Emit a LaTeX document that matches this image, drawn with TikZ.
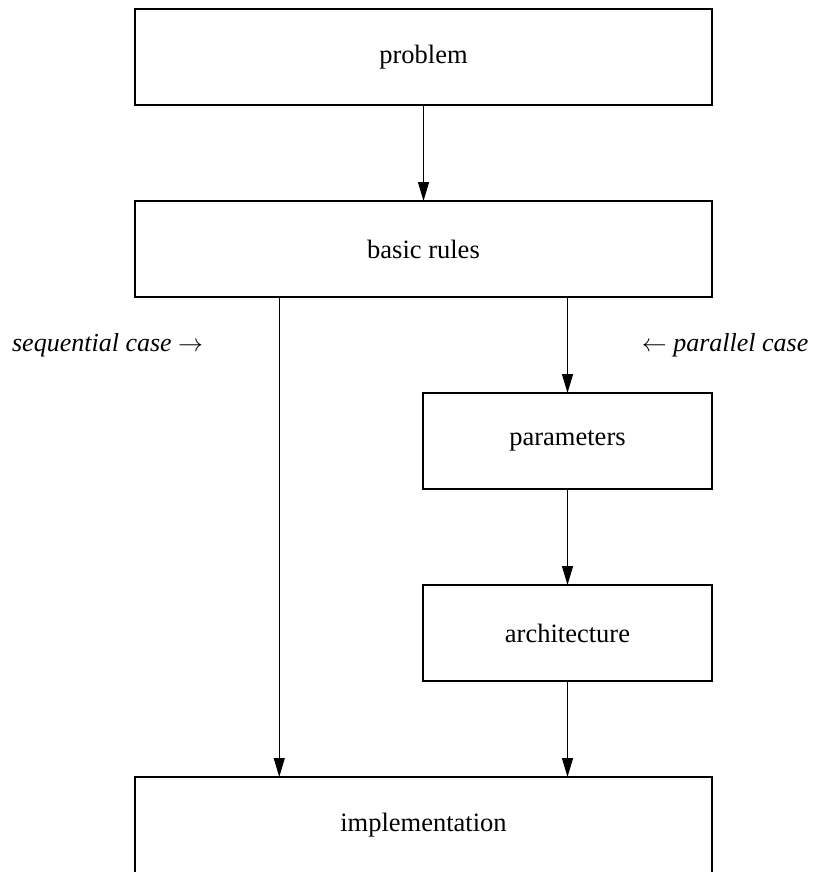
\documentclass[tikz,border=0pt]{standalone}
\usepackage{fontspec}
\setmainfont{Liberation Serif}
\usetikzlibrary{arrows.meta, positioning, calc}

\begin{document}
\begin{tikzpicture}[
      x=1pt, y=1pt,
      line width=1.2pt,
      font=\fontsize{26.5}{32}\selectfont,
      box/.style={draw, outer sep=0pt, inner sep=0pt, minimum width=577pt, minimum height=96pt},
      smallbox/.style={box, minimum width=289pt},
      lbl/.style={font=\fontsize{26}{32}\selectfont\itshape},
      >={Triangle[length=19pt, width=11pt]}
    ]
    \useasboundingbox (0,0) rectangle (814,-872);

    \node[box] (problem) at (423.5,-57) {problem};
    \node[box, below=96pt of problem] (rules) {basic rules};
    \node[smallbox, below=96pt of rules.south east, anchor=north east] (param) {parameters};
    \node[smallbox, below=96pt of param] (arch) {architecture};
    \node[box, below=96pt of arch.south east, anchor=north east] (impl) {implementation};

    \coordinate (seq) at ($(rules.south west)!.25!(rules.south east)$);

    \node[lbl, anchor=base east] (seqlbl) at (207,-351) {sequential case $\rightarrow$};
    \node[lbl, anchor=base west] (parlbl) at (638,-351) {$\leftarrow$ parallel case};

    \draw[->] (problem) -- (rules);
    \draw[->] (seq) -- (seq |- impl.north);
    \draw[->] (rules.south -| param) -- (param);
    \draw[->] (param) -- (arch);
    \draw[->] (arch) -- (impl.north -| arch);
  \end{tikzpicture}
\end{document}
